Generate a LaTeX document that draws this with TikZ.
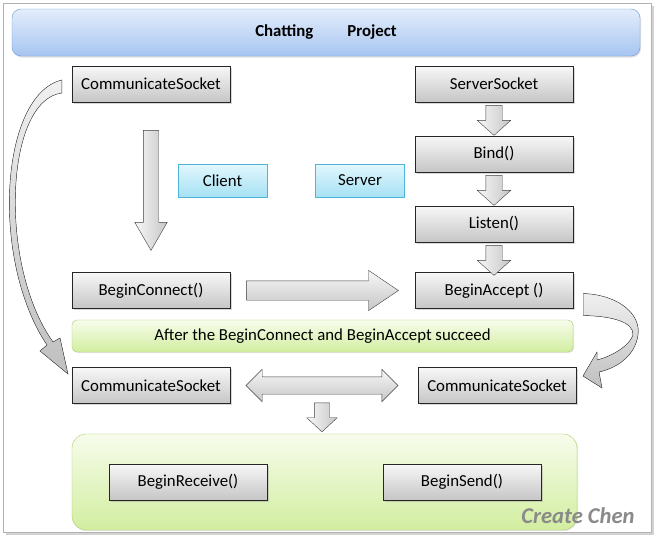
\documentclass[tikz,border=0pt]{standalone}
\usepackage{fontspec}
\setmainfont{Carlito}
\usepackage{xcolor}
\usepackage{tikz}
\usetikzlibrary{shapes.arrows, shadows, calc, positioning}

\definecolor{titletop}{HTML}{E3EDFB}
\definecolor{titlebot}{HTML}{A7C5F1}
\definecolor{titleline}{HTML}{6F9AD8}
\definecolor{roletop}{HTML}{E2F7FD}
\definecolor{rolebot}{HTML}{A6E1F4}
\definecolor{roleline}{HTML}{4FB5D8}
\definecolor{notetop}{HTML}{F7FCEC}
\definecolor{notebot}{HTML}{D2EEA0}
\definecolor{noteline}{HTML}{A9CE6C}
\definecolor{signgray}{HTML}{8A8A8A}

\tikzset{
  socketbox/.style={rectangle, draw=black!85, top color=gray!6, bottom color=gray!45,
    minimum width=158pt, minimum height=36pt, inner sep=0pt,
    drop shadow={shadow xshift=1.5pt, shadow yshift=-1.5pt, opacity=.3}},
  rolebox/.style={rectangle, draw=roleline, top color=roletop, bottom color=rolebot,
    minimum width=89pt, minimum height=33pt, inner sep=0pt},
  notebox/.style={rounded corners=5pt, draw=noteline, top color=notetop, bottom color=notebot,
    drop shadow={shadow xshift=1pt, shadow yshift=-1pt, opacity=.2}},
  blockarrow/.style={draw=black!75},
  downarrow/.style={blockarrow, single arrow, shape border rotate=270, anchor=tail,
    left color=gray!6, right color=gray!45},
  rightarrow/.style={blockarrow, single arrow, anchor=tail, top color=gray!6, bottom color=gray!45},
  bentarrow/.style={draw=black!75, top color=gray!12, bottom color=gray!50}
}

\begin{document}
\begin{tikzpicture}[x=1pt, y=-1pt, font=\fontsize{16.8}{19}\selectfont]
\useasboundingbox (0,0) rectangle (662,541);
% frame
\filldraw[draw=gray!60, fill=white, drop shadow={shadow xshift=3pt, shadow yshift=-3pt, opacity=.35}]
  (3,3) rectangle (651,532);

% title
\node[rounded corners=9pt, draw=titleline, top color=titletop, bottom color=titlebot,
      minimum width=628pt, minimum height=47pt,
      drop shadow={shadow xshift=1pt, shadow yshift=-1.5pt, opacity=.25}] (title) at (326,32.5)
  {\bfseries Chatting\hspace{34pt}Project};

% client side
\node[socketbox] (cs1) at (151,84) {CommunicateSocket};
\node[socketbox] (bc) at (151,290.5) {BeginConnect()};
\node[socketbox] (cs2) at (151,385.5) {CommunicateSocket};

% server side
\node[socketbox] (ss) at (494,84) {ServerSocket};
\node[socketbox] (bind) at (494,154) {Bind()};
\node[socketbox] (lis) at (494,224) {Listen()};
\node[socketbox] (ba) at (494,290.5) {BeginAccept ()};
\node[socketbox] (cs3) at (497,385.5) {CommunicateSocket};

\node[rolebox] (client) at (222.5,180.5) {Client};
\node[rolebox] (server) at (360,180.5) {Server};

\node[notebox, minimum width=501pt, minimum height=32pt] (after) at (322.5,336)
  {After the BeginConnect and BeginAccept succeed};

% receive / send group
\node[notebox, rounded corners=14pt, minimum width=505pt, minimum height=96pt] (grp) at (324.5,482) {};
\node[socketbox] (recv) at (188,482) {BeginReceive()};
\node[socketbox] (send) at (462,482) {BeginSend()};

% straight arrows (shaft = 2 x inner sep)
\node[downarrow, inner sep=7.5pt, minimum height=120pt, single arrow head extend=8.5pt,
      single arrow tip angle=60] (a1) at ($(cs1.south)+(0,28)$) {};
\foreach \from in {ss, bind, lis}
  \node[downarrow, inner sep=8pt, minimum height=30pt, single arrow head extend=8.5pt,
        single arrow tip angle=96] at ($(\from.south)+(0,3)$) {};
\node[rightarrow, inner sep=9.5pt, minimum height=152pt, single arrow head extend=10.5pt,
      single arrow tip angle=68] (a2) at ($(bc.east)+(16,0)$) {};
\node[blockarrow, double arrow, top color=gray!6, bottom color=gray!45, inner sep=8.5pt,
      minimum height=152pt, double arrow head extend=7.5pt,
      double arrow tip angle=90] (dbl) at ($(cs2.east)!.5!(cs3.west)+(-2,0)$) {};
\node[downarrow, inner sep=7.5pt, minimum height=29pt, single arrow head extend=7.5pt,
      single arrow tip angle=94] (a3) at ($(dbl |- cs3.south)+(0,-1)$) {};

% bent arrows
\filldraw[bentarrow] ($(cs1.west)+(-10,-4)$) .. controls (0,95) and (-10,260) .. (47,345)
  -- (40,351) -- (68,374) -- (60,338) -- (53,342)
  .. controls (-2,265) and (5,100) .. ($(cs1.west)+(-10,9)$) -- cycle;
\filldraw[bentarrow] ($(ba.east)+(10,3)$) .. controls (620,295) and (641,315) .. (638,335)
  .. controls (635,356) and (617,368) .. (599,372) -- (602,388) -- (583,376) -- (597,352)
  -- (597,360) .. controls (613,356) and (630,345) .. (633,335)
  .. controls (634,322) and (612,316) .. ($(ba.east)+(10,25)$) -- cycle;

% signature
\node[text=signgray, font=\fontsize{22.6}{26}\selectfont\bfseries\itshape] (sign) at (578,516) {Create Chen};
\end{tikzpicture}
\end{document}
